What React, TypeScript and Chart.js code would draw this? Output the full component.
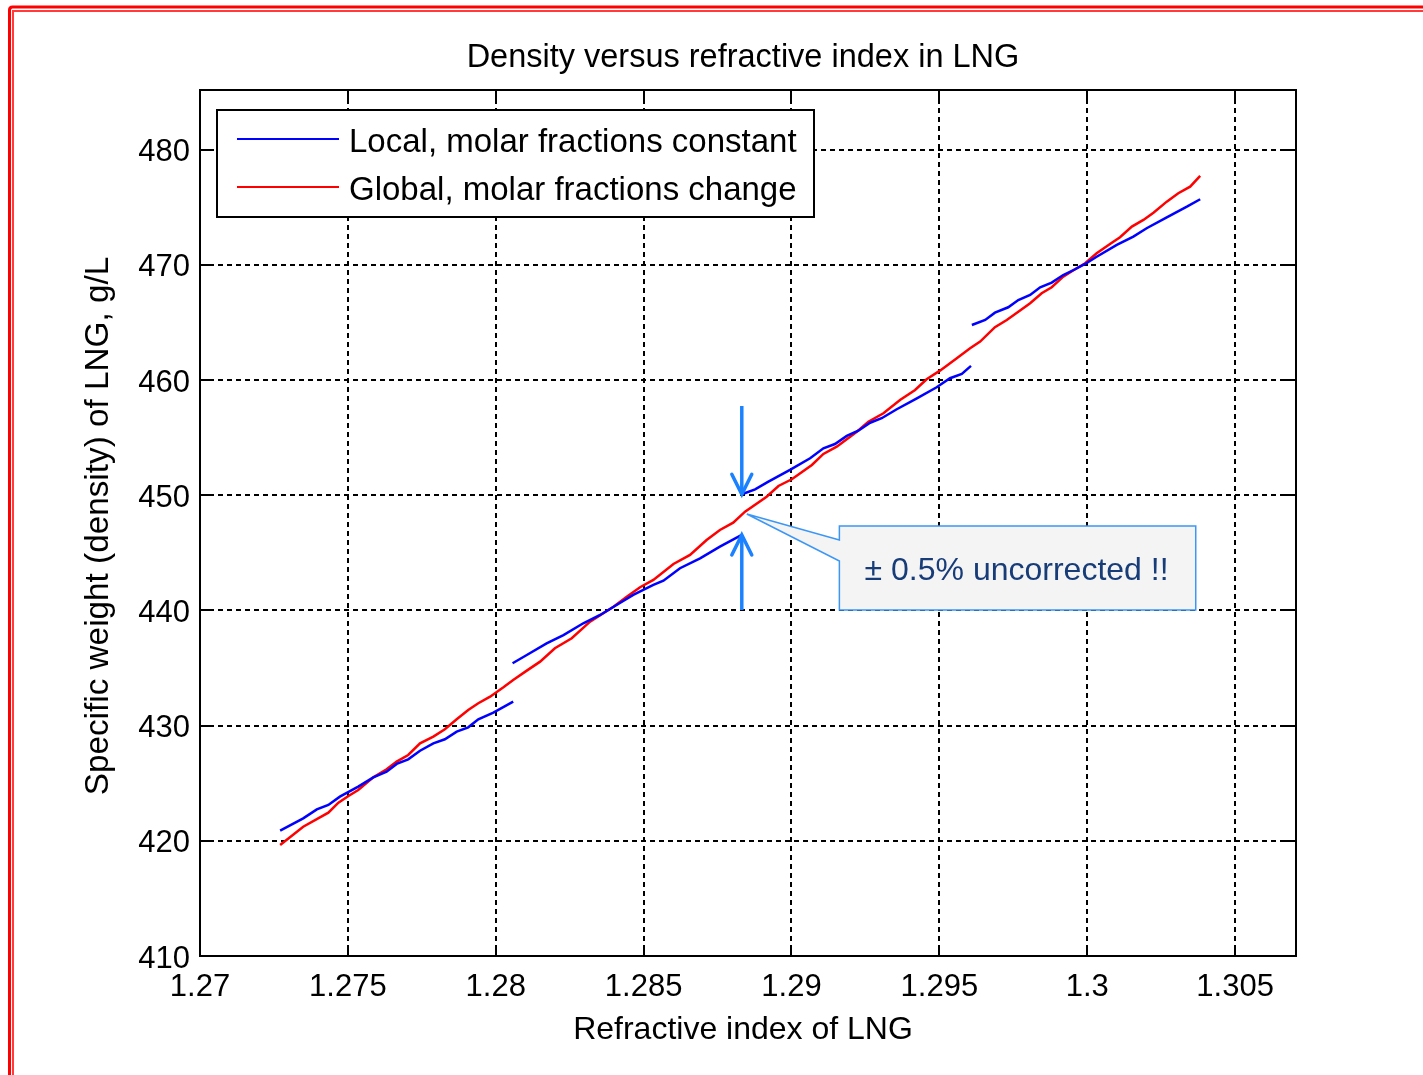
import React, { useEffect, useRef } from "react";
import { Chart, registerables } from "chart.js";

Chart.register(...registerables);

// ---------- data ----------
const seriesNames = ["Local, molar fractions constant", "Global, molar fractions change"];

const redX = [
  1.27271, 1.27349, 1.27434, 1.27468, 1.27502, 1.27535, 1.27586, 1.27631, 1.27665, 1.27704,
  1.27744, 1.27789, 1.27828, 1.27868, 1.27907, 1.27941, 1.27981, 1.28026, 1.28059, 1.28105,
  1.2815, 1.282, 1.28257, 1.28319, 1.28398, 1.28443, 1.28488, 1.28533, 1.28601, 1.28657,
  1.28713, 1.28758, 1.28803, 1.28843, 1.28916, 1.28956, 1.29001, 1.29069, 1.29108, 1.29153,
  1.29221, 1.2926, 1.29311, 1.29367, 1.29418, 1.29457, 1.29502, 1.29559, 1.29604, 1.29638,
  1.29688, 1.29728, 1.29767, 1.29807, 1.29846, 1.2988, 1.29919, 1.29959, 1.29993, 1.30032,
  1.30077, 1.30111, 1.30151, 1.3019, 1.30224, 1.30269, 1.30308, 1.30348, 1.30382,
];
const redY = [
  419.64, 421.22, 422.44, 423.31, 423.89, 424.41, 425.51, 426.21, 426.87, 427.45,
  428.46, 429.04, 429.68, 430.55, 431.35, 431.94, 432.51, 433.33, 433.96, 434.77,
  435.55, 436.71, 437.58, 439.02, 440.32, 441.19, 442.01, 442.64, 444.03, 444.81,
  446.11, 446.98, 447.61, 448.57, 449.87, 450.8, 451.38, 452.62, 453.58, 454.21,
  455.51, 456.38, 457.11, 458.26, 459.13, 460.06, 460.81, 461.88, 462.75, 463.33,
  464.58, 465.21, 465.93, 466.66, 467.53, 468.05, 468.97, 469.61, 470.13, 471.0,
  471.81, 472.39, 473.31, 473.89, 474.52, 475.48, 476.21, 476.78, 477.71,
];

const blueX1 = [
  1.27271, 1.27349, 1.27395, 1.27434, 1.27473, 1.27535, 1.27586, 1.27631, 1.27665, 1.27704,
  1.27744, 1.27789, 1.27828, 1.27868, 1.27907, 1.27941, 1.27992, 1.28059,
];
const blueY1 = [
  420.88, 421.95, 422.73, 423.11, 423.83, 424.7, 425.51, 426.0, 426.67, 427.07,
  427.82, 428.46, 428.81, 429.47, 429.85, 430.55, 431.12, 432.08,
];
const blueX2 = [
  1.28057, 1.28105, 1.28172, 1.28229, 1.28296, 1.28353, 1.28403, 1.28465, 1.28533, 1.28567,
  1.28623, 1.28691, 1.28758, 1.28832,
];
const blueY2 = [
  435.41, 436.13, 437.14, 437.86, 438.88, 439.6, 440.38, 441.34, 442.21, 442.58,
  443.66, 444.52, 445.53, 446.55,
];
const blueX3 = [
  1.28832, 1.28877, 1.28922, 1.28995, 1.29063, 1.29108, 1.29147, 1.29187, 1.29226, 1.29266,
  1.29305, 1.29356, 1.29424, 1.29491, 1.29536, 1.29576, 1.29607,
];
const blueY3 = [
  450.08, 450.51, 451.17, 452.19, 453.2, 454.07, 454.44, 455.14, 455.6, 456.29,
  456.68, 457.46, 458.41, 459.37, 460.15, 460.52, 461.22,
];
const blueX4 = [
  1.2961, 1.29655, 1.29688, 1.29733, 1.29767, 1.29807, 1.29841, 1.2988, 1.29919, 1.29959,
  1.29993, 1.30032, 1.301, 1.30156, 1.30201, 1.30269, 1.30337, 1.30382,
];
const blueY4 = [
  464.77, 465.21, 465.84, 466.31, 466.94, 467.38, 468.05, 468.45, 469.11, 469.61,
  470.07, 470.7, 471.72, 472.44, 473.17, 474.12, 475.04, 475.69,
];

// annotation (data units)
const arrowX = 1.28832;
const arrowDown = [457.74, 450.08]; // from, to
const arrowUp = [440.03, 446.55]; // from, to
const calloutBox = [1.29162, 1.30367, 447.33, 440.03]; // x0, x1, yTop, yBottom
const calloutTip = [1.28849, 448.37];
const calloutBase = [446.11, 444.29];
const calloutText = "± 0.5% uncorrected !!";

const titleText = "Density versus refractive index in LNG";
const xTitle = "Refractive index of LNG";
const yTitle = "Specific weight (density) of LNG, g/L";

const FONT = "'Liberation Sans', Arial, Helvetica, sans-serif";

const zip = (xs: number[], ys: number[]) => xs.map((x, i) => ({ x, y: ys[i] }));

const decor = {
  id: "decor",
  beforeDraw(chart: any) {
    const { ctx, width, height } = chart;
    ctx.save();
    ctx.fillStyle = "#ffffff";
    ctx.fillRect(0, 0, width, height);
    // double red frame
    ctx.strokeStyle = "#ff0000";
    ctx.lineWidth = 3;
    ctx.beginPath();
    ctx.moveTo(9.5, height + 10);
    ctx.lineTo(9.5, 10);
    ctx.quadraticCurveTo(9.5, 7, 12.5, 7);
    ctx.lineTo(width + 10, 7);
    ctx.stroke();
    ctx.strokeStyle = "#ff3b3b";
    ctx.lineWidth = 2;
    ctx.beginPath();
    ctx.moveTo(13, height + 10);
    ctx.lineTo(13, 11);
    ctx.lineTo(width + 10, 11);
    ctx.stroke();
    ctx.restore();
  },
  afterDraw(chart: any) {
    const { ctx, chartArea: a } = chart;
    const xs = chart.scales.x;
    const ys = chart.scales.y;
    ctx.save();
    // axes box
    ctx.strokeStyle = "#000";
    ctx.lineWidth = 2;
    ctx.strokeRect(a.left, a.top, a.right - a.left, a.bottom - a.top);
    // inward ticks
    const tl = 11;
    ctx.beginPath();
    xs.ticks.forEach((t: any) => {
      const p = Math.round(xs.getPixelForValue(t.value));
      ctx.moveTo(p, a.bottom);
      ctx.lineTo(p, a.bottom - tl);
      ctx.moveTo(p, a.top);
      ctx.lineTo(p, a.top + tl);
    });
    ys.ticks.forEach((t: any) => {
      const p = Math.round(ys.getPixelForValue(t.value));
      ctx.moveTo(a.left, p);
      ctx.lineTo(a.left + tl, p);
      ctx.moveTo(a.right, p);
      ctx.lineTo(a.right - tl, p);
    });
    ctx.stroke();

    // legend
    const lx = 217, ly = 110, lw = 597, lh = 107;
    ctx.fillStyle = "#fff";
    ctx.fillRect(lx, ly, lw, lh);
    ctx.strokeStyle = "#000";
    ctx.lineWidth = 2;
    ctx.strokeRect(lx, ly, lw, lh);
    const legendColors = ["#0000ff", "#ff0000"];
    const rows = [139, 187];
    ctx.font = `33px ${FONT}`;
    ctx.textBaseline = "middle";
    ctx.textAlign = "left";
    rows.forEach((ry, i) => {
      ctx.strokeStyle = legendColors[i];
      ctx.lineWidth = 2;
      ctx.beginPath();
      ctx.moveTo(237, ry);
      ctx.lineTo(339, ry);
      ctx.stroke();
      ctx.fillStyle = "#000";
      ctx.fillText(seriesNames[i], 349, ry + 4);
    });

    // arrows
    const ax = xs.getPixelForValue(arrowX);
    const drawArrow = (from: number, to: number) => {
      const y0 = ys.getPixelForValue(from);
      const y1 = ys.getPixelForValue(to);
      const dir = y1 > y0 ? 1 : -1;
      ctx.strokeStyle = "#1a82ff";
      ctx.lineWidth = 3.5;
      ctx.lineCap = "butt";
      ctx.beginPath();
      ctx.moveTo(ax, y0);
      ctx.lineTo(ax, y1);
      ctx.stroke();
      ctx.lineCap = "round";
      ctx.beginPath();
      ctx.moveTo(ax - 10, y1 - dir * 20);
      ctx.lineTo(ax, y1);
      ctx.lineTo(ax + 10, y1 - dir * 20);
      ctx.stroke();
      ctx.lineCap = "butt";
    };
    drawArrow(arrowDown[0], arrowDown[1]);
    drawArrow(arrowUp[0], arrowUp[1]);

    // callout
    const bx0 = xs.getPixelForValue(calloutBox[0]);
    const bx1 = xs.getPixelForValue(calloutBox[1]);
    const by0 = ys.getPixelForValue(calloutBox[2]);
    const by1 = ys.getPixelForValue(calloutBox[3]);
    const tx = xs.getPixelForValue(calloutTip[0]);
    const ty = ys.getPixelForValue(calloutTip[1]);
    const b0 = ys.getPixelForValue(calloutBase[0]);
    const b1 = ys.getPixelForValue(calloutBase[1]);
    ctx.fillStyle = "#f4f4f4";
    ctx.strokeStyle = "#3b96f5";
    ctx.lineWidth = 1.5;
    ctx.beginPath();
    ctx.moveTo(bx0, by0);
    ctx.lineTo(bx1, by0);
    ctx.lineTo(bx1, by1);
    ctx.lineTo(bx0, by1);
    ctx.lineTo(bx0, b1);
    ctx.lineTo(tx, ty);
    ctx.lineTo(bx0, b0);
    ctx.closePath();
    ctx.fill();
    ctx.stroke();
    ctx.fillStyle = "#173c78";
    ctx.font = `32px ${FONT}`;
    ctx.textAlign = "center";
    ctx.textBaseline = "middle";
    ctx.fillText(calloutText, (bx0 + bx1) / 2 - 1, (by0 + by1) / 2 + 3);

    // titles
    ctx.fillStyle = "#000";
    ctx.font = `32.5px ${FONT}`;
    ctx.textAlign = "center";
    ctx.textBaseline = "middle";
    ctx.fillText(titleText, 743, 58);
    ctx.font = `32px ${FONT}`;
    ctx.fillText(xTitle, 743, 1030);
    ctx.font = `33.3px ${FONT}`;
    ctx.save();
    ctx.translate(99, 526);
    ctx.rotate(-Math.PI / 2);
    ctx.fillText(yTitle, 0, 0);
    ctx.restore();

    ctx.restore();
  },
};

export default function App() {
  const ref = useRef<HTMLCanvasElement>(null);
  useEffect(() => {
    if (!ref.current) return;
    const lineDs = (label: string, data: any, color: string) => ({
      label,
      data,
      borderColor: color,
      backgroundColor: color,
      borderWidth: 2.5,
      pointRadius: 0,
      showLine: true,
      fill: false,
      tension: 0,
    });
    const gridCommon = {
      color: "#000",
      lineWidth: 2,
      drawTicks: false,
      borderDash: [5, 4],
    };
    const chart = new Chart(ref.current, {
      type: "scatter",
      data: {
        datasets: [
          lineDs(seriesNames[0], zip(blueX1, blueY1), "#0000ff"),
          lineDs(seriesNames[0], zip(blueX2, blueY2), "#0000ff"),
          lineDs(seriesNames[0], zip(blueX3, blueY3), "#0000ff"),
          lineDs(seriesNames[0], zip(blueX4, blueY4), "#0000ff"),
          lineDs(seriesNames[1], zip(redX, redY), "#ff0000"),
        ],
      },
      options: {
        animation: false,
        responsive: false,
        devicePixelRatio: 1,
        layout: { padding: { left: 0, right: 127, top: 90, bottom: 0 } },
        plugins: {
          legend: { display: false },
          title: { display: false },
          tooltip: { enabled: false },
        },
        scales: {
          x: {
            type: "linear",
            min: 1.27,
            max: 1.30706,
            afterFit: (s: any) => {
              s.height = 119;
            },
            grid: gridCommon,
            border: { display: false, dash: [5, 4] },
            ticks: {
              stepSize: 0.005,
              includeBounds: false,
              padding: 13,
              color: "#000",
              font: { family: FONT, size: 31 },
              maxRotation: 0,
              autoSkip: false,
              callback: (v: any) => String(Number(Number(v).toFixed(3))),
            },
          },
          y: {
            type: "linear",
            min: 410,
            max: 485.17,
            afterFit: (s: any) => {
              s.width = 200;
            },
            grid: gridCommon,
            border: { display: false, dash: [5, 4] },
            ticks: {
              stepSize: 10,
              includeBounds: false,
              padding: 10,
              labelOffset: 3,
              color: "#000",
              font: { family: FONT, size: 31 },
              autoSkip: false,
              callback: (v: any) => String(Math.round(Number(v))),
            },
          },
        },
      },
      plugins: [decor],
    } as any);
    return () => chart.destroy();
  }, []);
  return (
    <div style={{ position: "absolute", left: 0, top: 0, width: 1423, height: 1075, background: "#fff" }}>
      <canvas ref={ref} width={1423} height={1075} style={{ display: "block", width: 1423, height: 1075 }} />
    </div>
  );
}
